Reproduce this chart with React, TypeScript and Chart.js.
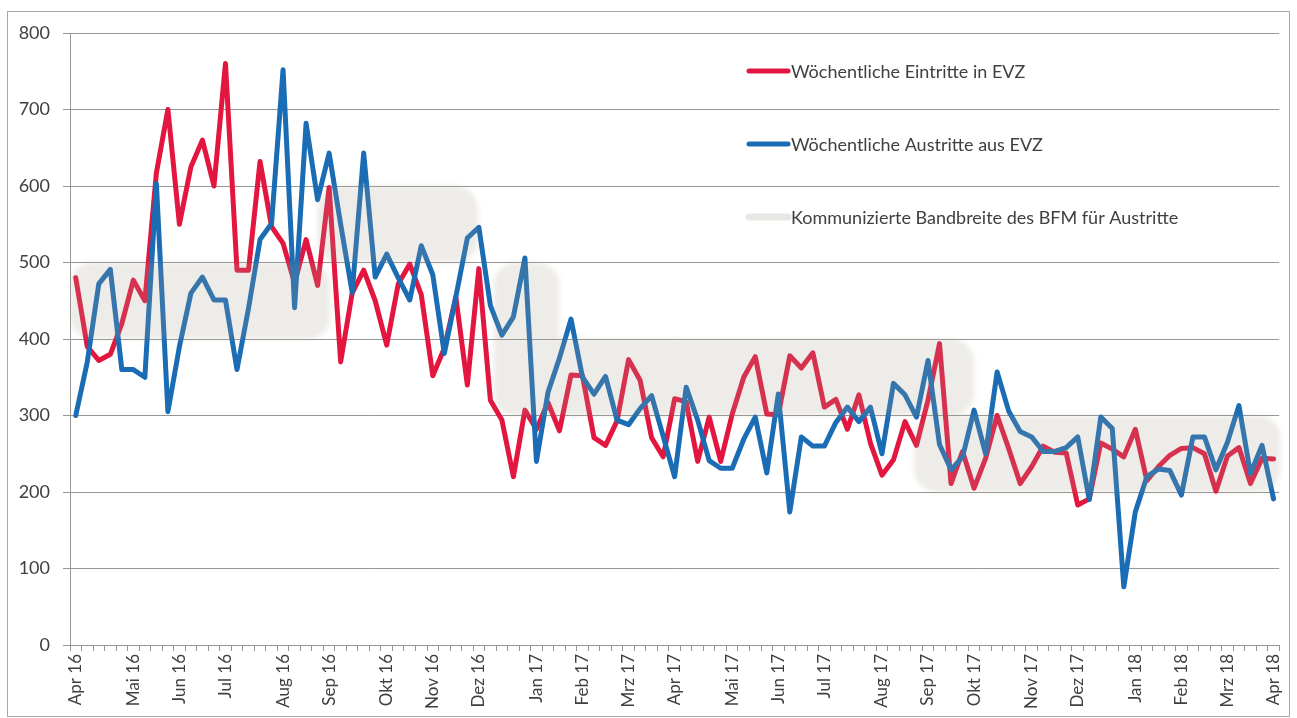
import React, { useEffect, useRef } from 'react';
import { Chart, registerables } from 'chart.js';

Chart.register(...registerables);

// ---- Data ----
const weekCount = 105;
const monthLabels = ['Apr 16', 'Mai 16', 'Jun 16', 'Jul 16', 'Aug 16', 'Sep 16', 'Okt 16', 'Nov 16', 'Dez 16',
  'Jan 17', 'Feb 17', 'Mrz 17', 'Apr 17', 'Mai 17', 'Jun 17', 'Jul 17', 'Aug 17', 'Sep 17', 'Okt 17', 'Nov 17', 'Dez 17',
  'Jan 18', 'Feb 18', 'Mrz 18', 'Apr 18'];
const monthWeekIndex = [0, 5, 9, 13, 18, 22, 27, 31, 35, 40, 44, 48, 52, 57, 61, 65, 70, 74, 78, 83, 87, 92, 96, 100, 104];

const eintritte = [
  480, 390, 372, 380, 420, 477, 450, 617, 700, 550,
  625, 660, 600, 760, 490, 490, 632, 547, 525, 473,
  530, 470, 598, 370, 460, 490, 450, 392, 472, 498,
  458, 352, 388, 455, 340, 492, 320, 294, 220, 307,
  282, 317, 280, 353, 352, 271, 261, 293, 373, 346,
  271, 246, 322, 318, 240, 298, 240, 302, 350, 377,
  302, 301, 378, 362, 382, 311, 321, 282, 327, 264,
  222, 242, 292, 261, 320, 394, 211, 253, 205, 244,
  300, 257, 211, 233, 260, 252, 251, 183, 191, 264,
  256, 246, 282, 215, 233, 248, 257, 258, 250, 201,
  247, 258, 211, 244, 243,
];

const austritte = [
  300, 370, 472, 491, 360, 360, 350, 603, 305, 390,
  460, 481, 451, 451, 360, 440, 530, 551, 752, 441,
  682, 582, 643, 550, 461, 643, 481, 511, 480, 451,
  522, 484, 381, 455, 532, 546, 444, 405, 429, 506,
  240, 330, 375, 426, 350, 328, 351, 294, 288, 309,
  326, 273, 220, 337, 294, 241, 231, 231, 269, 298,
  225, 328, 174, 272, 260, 260, 291, 311, 292, 311,
  250, 342, 327, 298, 372, 262, 229, 246, 307, 250,
  357, 306, 279, 272, 253, 253, 258, 272, 190, 298,
  283, 76, 174, 220, 230, 228, 196, 272, 272, 229,
  265, 313, 224, 261, 191,
];

// Communicated range (band) segments, in week index / value units
const bandStart = [-0.5, 21.0, 36.3, 36.3, 72.8];
const bandEnd = [22.1, 34.9, 42.0, 78.0, 104.6];
const bandLow = [400, 500, 300, 300, 200];
const bandHigh = [500, 600, 500, 400, 300];

const yTicks = [0, 100, 200, 300, 400, 500, 600, 700, 800];

const legendLabels = [
  'Wöchentliche Eintritte in EVZ',
  'Wöchentliche Austritte aus EVZ',
  'Kommunizierte Bandbreite des BFM für Austritte',
];

const RED = '#E2163F';
const BLUE = '#1A6CB4';
const BAND = 'rgba(170,160,140,0.2)';
const TEXT = '#404040';
const GRID = '#969696';

const categories = Array.from({ length: weekCount }, (_, i) => {
  const k = monthWeekIndex.indexOf(i);
  return k >= 0 ? monthLabels[k] : '';
});

const bandPlugin = {
  id: 'bandPlugin',
  afterDatasetsDraw(chart: any) {
    const { ctx, chartArea, scales } = chart;
    const xs = scales.x;
    const ys = scales.y;
    ctx.save();
    ctx.beginPath();
    ctx.rect(chartArea.left, chartArea.top, chartArea.right - chartArea.left + 10, chartArea.bottom - chartArea.top);
    ctx.clip();
    ctx.filter = 'blur(2.5px)';
    ctx.beginPath();
    for (let i = 0; i < bandStart.length; i++) {
      const x0 = xs.getPixelForValue(bandStart[i]);
      const x1 = xs.getPixelForValue(bandEnd[i]);
      const y0 = ys.getPixelForValue(bandHigh[i]);
      const y1 = ys.getPixelForValue(bandLow[i]);
      ctx.roundRect(x0, y0, x1 - x0, y1 - y0, 22);
    }
    ctx.fillStyle = BAND;
    ctx.fill('nonzero');
    ctx.restore();
  },
  afterDraw(chart: any) {
    const { ctx } = chart;
    ctx.save();
    // outer frame
    ctx.strokeStyle = '#A8A8A8';
    ctx.lineWidth = 1;
    ctx.strokeRect(7.5, 11.5, 1282, 705);
    // legend
    const colors = [RED, BLUE, 'rgba(200,195,185,0.4)'];
    const ys = [71, 144, 217];
    ctx.font = '18px Lato';
    ctx.textBaseline = 'middle';
    for (let i = 0; i < legendLabels.length; i++) {
      ctx.strokeStyle = colors[i];
      ctx.lineWidth = i === 2 ? 7 : 5;
      ctx.lineCap = 'round';
      ctx.beginPath();
      ctx.moveTo(749, ys[i]);
      ctx.lineTo(788, ys[i]);
      ctx.stroke();
      ctx.fillStyle = TEXT;
      ctx.fillText(legendLabels[i], 791, ys[i] + 1);
    }
    ctx.restore();
  },
};

export default function App() {
  const ref = useRef<HTMLCanvasElement | null>(null);

  useEffect(() => {
    if (!ref.current) return;
    Chart.defaults.font.family = 'Lato';
    Chart.defaults.color = TEXT;
    const chart = new Chart(ref.current, {
      type: 'line',
      data: {
        labels: categories,
        datasets: [
          {
            label: legendLabels[0],
            data: eintritte,
            borderColor: RED,
            backgroundColor: RED,
            borderWidth: 5,
            pointRadius: 0,
            tension: 0,
            borderJoinStyle: 'round',
            borderCapStyle: 'round',
            order: 1,
          },
          {
            label: legendLabels[1],
            data: austritte,
            borderColor: BLUE,
            backgroundColor: BLUE,
            borderWidth: 5,
            pointRadius: 0,
            tension: 0,
            borderJoinStyle: 'round',
            borderCapStyle: 'round',
            order: 0,
          },
        ],
      },
      options: {
        responsive: false,
        animation: false,
        layout: { padding: { left: 0, top: 33, right: 17, bottom: 0 } },
        plugins: {
          legend: { display: false },
          tooltip: { enabled: false },
        },
        scales: {
          x: {
            type: 'category',
            offset: true,
            grid: {
              display: true,
              offset: true,
              drawOnChartArea: false,
              drawTicks: true,
              tickLength: 6,
              color: GRID,
            },
            border: { display: false },
            ticks: {
              autoSkip: false,
              minRotation: 90,
              maxRotation: 90,
              padding: 3,
              color: TEXT,
              font: { size: 17, family: 'Lato' },
            },
            afterFit(scale: any) {
              scale.height = 73;
            },
          },
          y: {
            min: 0,
            max: 800,
            afterBuildTicks(scale: any) {
              scale.ticks = yTicks.map((v) => ({ value: v }));
            },
            grid: {
              color: GRID,
              lineWidth: 1,
              tickLength: 7,
              drawTicks: true,
            },
            border: { display: true, color: GRID },
            ticks: {
              padding: 13,
              color: TEXT,
              font: { size: 18, family: 'Lato' },
            },
            afterFit(scale: any) {
              scale.width = 70;
            },
          },
        },
      },
      plugins: [bandPlugin],
    } as any);
    return () => chart.destroy();
  }, []);

  return (
    <div style={{ position: 'fixed', left: 0, top: 0, width: 1297, height: 718, background: '#fff' }}>
      <canvas ref={ref} width={1297} height={718} style={{ display: 'block', width: 1297, height: 718 }} />
    </div>
  );
}
